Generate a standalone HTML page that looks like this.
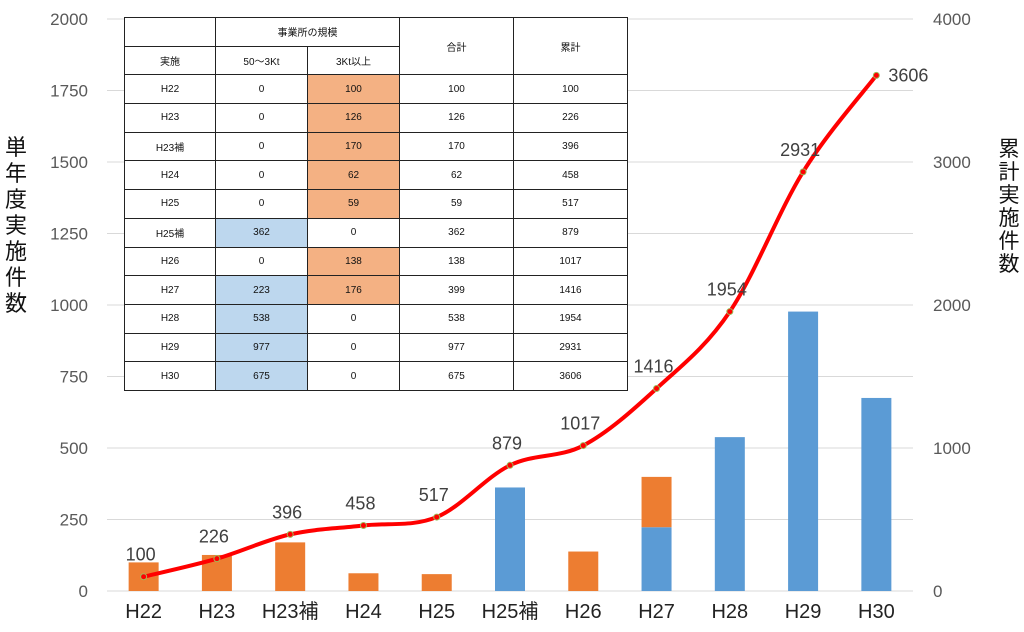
<!DOCTYPE html>
<html><head><meta charset="utf-8"><style>
html,body{margin:0;padding:0;background:#fff;}
body{width:1024px;height:632px;overflow:hidden;position:relative;font-family:"Liberation Sans","Noto Sans CJK JP",sans-serif;}
svg{position:absolute;left:0;top:0;}
table{position:absolute;left:124px;top:17px;border-collapse:collapse;background:#fff;font-size:10px;color:#111;font-family:"Liberation Sans","Noto Sans CJK JP",sans-serif;}
td{border:1px solid #222;text-align:center;padding:0;height:27.7px;}
.o{background:#F4B183}.b{background:#BDD7EE}
</style></head><body>
<svg width="1024" height="632" id="c"></svg>
<table>
<colgroup><col style="width:91px"><col style="width:92px"><col style="width:92px"><col style="width:114px"><col style="width:114px"></colgroup>
<tr><td></td><td colspan="2">事業所の規模</td><td rowspan="2">合計</td><td rowspan="2">累計</td></tr>
<tr><td>実施</td><td>50～3Kt</td><td>3Kt以上</td></tr>
<tbody id="tb"></tbody>
</table>
<script>
const categories=["H22","H23","H23補","H24","H25","H25補","H26","H27","H28","H29","H30"];
const small=[0,0,0,0,0,362,0,223,538,977,675];
const large=[100,126,170,62,59,0,138,176,0,0,0];
const cumulative=[100,226,396,458,517,879,1017,1416,1954,2931,3606];
const leftTicks=[0,250,500,750,1000,1250,1500,1750,2000];
const rightTicks=[0,1000,2000,3000,4000];
const NS="http://www.w3.org/2000/svg";
const svg=document.getElementById('c');
const x0=107,x1=913,yb=591,yt=19;
const step=(x1-x0)/categories.length;
const xc=i=>x0+step*(i+0.5);
const yl=v=>yb-(yb-yt)*v/2000;
const yr=v=>yb-(yb-yt)*v/4000;
function mk(t,a){const e=document.createElementNS(NS,t);for(const k in a)e.setAttribute(k,a[k]);svg.appendChild(e);return e;}
leftTicks.forEach(v=>{
 const g=mk('line',{x1:x0,x2:x1,y1:yl(v),y2:yl(v),stroke:'#d9d9d9','stroke-width':1});
 
 
 const t=mk('text',{x:88,y:yl(v)+6,'text-anchor':'end','font-size':17,fill:'#595959'});
 t.textContent=v;
 
 
});
rightTicks.forEach(v=>{
 const t=mk('text',{x:933,y:yr(v)+6,'font-size':17,fill:'#595959'});
 t.textContent=v;
 
 
});
const bw=30;
categories.forEach((c,i)=>{
 if(small[i]>0){const r=mk('rect',{x:xc(i)-bw/2,y:yl(small[i]),width:bw,height:yb-yl(small[i]),fill:'#5B9BD5'});
 
 }
 if(large[i]>0){const r=mk('rect',{x:xc(i)-bw/2,y:yl(small[i]+large[i]),width:bw,height:yl(small[i])-yl(small[i]+large[i]),fill:'#ED7D31'});
 
 }
 const t=mk('text',{x:xc(i),y:618,'text-anchor':'middle','font-size':20,fill:'#222'});
 t.textContent=c;
 
 
});
const pts=cumulative.map((v,i)=>[xc(i),yr(v)]);
let d='M'+pts[0][0]+','+pts[0][1];
for(let i=0;i<pts.length-1;i++){
 const p0=pts[i-1]||pts[i],p1=pts[i],p2=pts[i+1],p3=pts[i+2]||p2;
 d+=' C'+(p1[0]+(p2[0]-p0[0])/6)+','+(p1[1]+(p2[1]-p0[1])/6)+' '+(p2[0]-(p3[0]-p1[0])/6)+','+(p2[1]-(p3[1]-p1[1])/6)+' '+p2[0]+','+p2[1];
}
const ln=mk('path',{d:d,fill:'none',stroke:'#FF0000','stroke-width':4});


cumulative.forEach((v,i)=>{
 const p=mk('circle',{cx:pts[i][0],cy:pts[i][1],r:3,fill:'#FF0000',stroke:'#9BBB59','stroke-width':1});
 
 
 const last=i===cumulative.length-1;
 const t=mk('text',{x:last?pts[i][0]+12:pts[i][0]-3,y:last?pts[i][1]+6:pts[i][1]-16,'text-anchor':last?'start':'middle','font-size':18,fill:'#404040'});
 t.textContent=v;
 
 
});
const tb=document.getElementById('tb');
categories.forEach((c,i)=>{
 const tr=document.createElement('tr');
 const vals=[c,small[i],large[i],small[i]+large[i],cumulative[i]];
 vals.forEach((v,j)=>{const td=document.createElement('td');td.textContent=v;
  if(j===1&&small[i]>0)td.className='b';
  if(j===2&&large[i]>0)td.className='o';
  tr.appendChild(td);});
 
 
 tb.appendChild(tr);
});
</script>
<div style="position:absolute;left:3px;top:135px;width:26px;font-size:22px;line-height:26px;color:#111;text-align:center;">単<br>年<br>度<br>実<br>施<br>件<br>数</div>
<div style="position:absolute;left:997px;top:138px;width:24px;font-size:21px;line-height:23px;color:#111;text-align:center;">累<br>計<br>実<br>施<br>件<br>数</div>
</body></html>
